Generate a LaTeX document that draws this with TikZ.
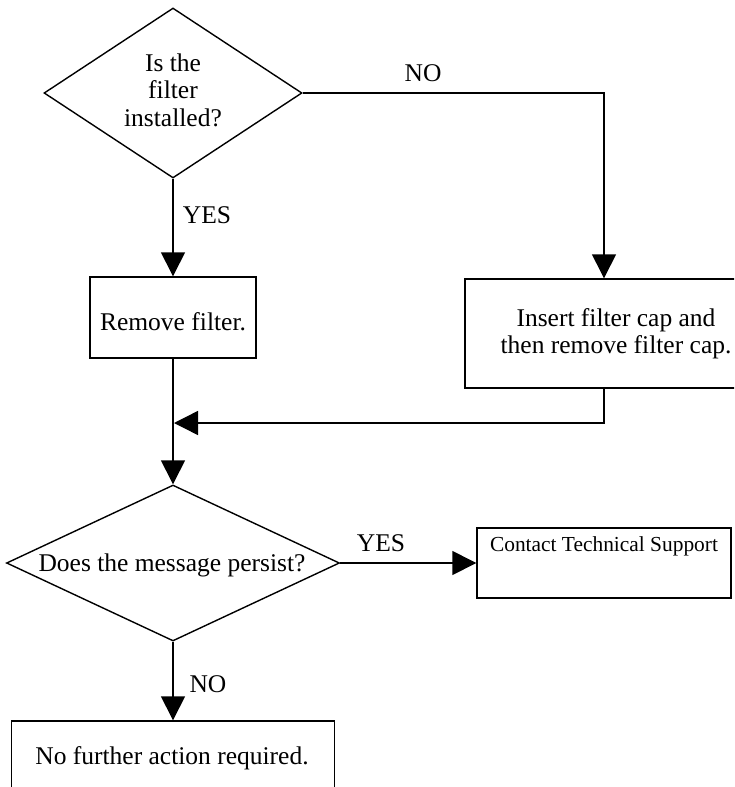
\documentclass[tikz,border=0pt]{standalone}
\usepackage{fontspec}
\setmainfont{Liberation Serif}
\usetikzlibrary{shapes.geometric,arrows.meta}
\begin{document}
\begin{tikzpicture}[x=1pt,y=-1pt,
  every node/.style={font=\fontsize{25.5}{27.5}\selectfont},
  decision/.style={draw,diamond,inner sep=0pt,line width=1.4pt},
  procbox/.style={draw,rectangle,inner sep=0pt,line width=1.4pt,align=center},
  txt/.style={align=center,inner sep=0pt},
  flow/.style={line width=1.4pt,-{Triangle[length=24pt,width=24pt]}},
  plain/.style={line width=1.4pt}]
\useasboundingbox (0,0) rectangle (734,787);
\clip (0,0) rectangle (734,787);
% decision 1
\node[decision,minimum width=258pt,minimum height=170pt] (q1) at (173,93) {};
\node[txt] (q1t) at (173,90) {Is the\\filter\\installed?};
% remove filter box
\node[procbox,minimum width=166pt,minimum height=81pt] (rem) at (173,317.5) {};
\node[txt] (remt) at (173,322) {Remove filter.};
% insert cap box (right edge runs off the picture)
\node[procbox,minimum width=302pt,minimum height=109pt] (ins) at (616,333.5) {Insert filter cap and\\then remove filter cap.};
% decision 2
\node[decision,minimum width=333pt,minimum height=156pt] (q2) at (173,563) {};
\node[txt] (q2t) at (172,565) {Does the message persist?};
% contact box
\node[procbox,minimum width=254pt,minimum height=70pt] (con) at (604,563) {};
\node[txt,font=\fontsize{21.4}{24}\selectfont,anchor=north] (cont) at (604,536) {Contact Technical Support};
% no further action box
\node[procbox,minimum width=323pt,minimum height=74pt] (nfa) at (173,758) {};
\node[txt] (nfat) at (172,758) {No further action required.};
% labels
\node[txt] (lno1) at (423,73) {NO};
\node[txt] (lyes1) at (207,215) {YES};
\node[txt] (lyes2) at (381,543) {YES};
\node[txt] (lno2) at (208,684) {NO};
% connectors
\coordinate (j) at (174,423);
\draw[flow] (q1.south) -- (rem.north);
\draw[flow] (q1.east) -| ([xshift=-12pt]ins.north);
\draw[flow] ([xshift=-12pt]ins.south) |- (j);
\draw[flow] (rem.south) -- (q2.north);
\draw[flow] (q2.east) -- (con.west);
\draw[flow] (q2.south) -- (nfa.north);
\end{tikzpicture}
\end{document}
